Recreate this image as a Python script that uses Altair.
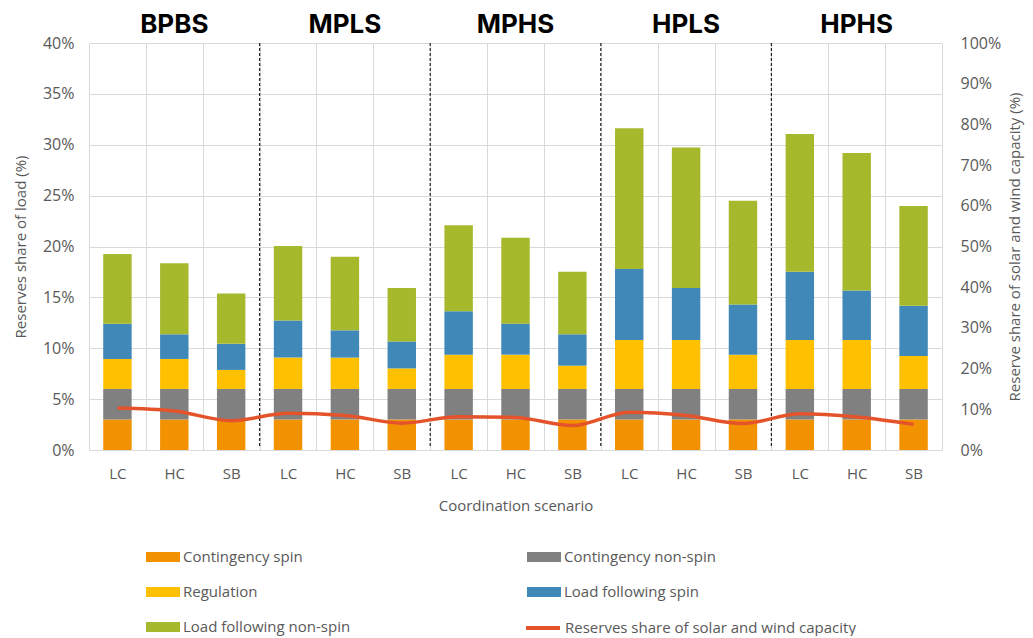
import altair as alt
import pandas as pd

groups = ["BPBS", "MPLS", "MPHS", "HPLS", "HPHS"]
scenarios = ["LC", "HC", "SB"]
series_names = ["Contingency spin", "Contingency non-spin", "Regulation",
                "Load following spin", "Load following non-spin"]
line_name = "Reserves share of solar and wind capacity"

# Reserves share of load (%), per group x scenario (LC, HC, SB)
contingency_spin = [3.0, 3.0, 3.0, 3.0, 3.0, 3.0, 3.0, 3.0, 3.0, 3.0, 3.0, 3.0, 3.0, 3.0, 3.0]
contingency_nonspin = [3.0, 3.0, 3.0, 3.0, 3.0, 3.0, 3.0, 3.0, 3.0, 3.0, 3.0, 3.0, 3.0, 3.0, 3.0]
regulation = [2.95, 2.95, 1.87, 3.08, 3.08, 2.02, 3.37, 3.37, 2.29, 4.82, 4.82, 3.37, 4.82, 4.82, 3.24]
lf_spin = [3.47, 2.42, 2.56, 3.64, 2.68, 2.65, 4.26, 3.05, 3.08, 6.98, 5.11, 4.94, 6.71, 4.85, 4.94]
lf_nonspin = [6.85, 6.98, 4.94, 7.34, 7.24, 5.25, 8.45, 8.45, 6.16, 13.82, 13.79, 10.19, 13.53, 13.53, 9.80]
# Reserves share of solar and wind capacity (%)
line_share = [10.3, 9.6, 7.2, 9.0, 8.5, 6.6, 8.2, 8.0, 6.0, 9.3, 8.5, 6.5, 8.9, 8.1, 6.3]

bar_colors = ["#F39200", "#808080", "#FFC000", "#3F88B8", "#A6B82C"]
line_color = "#E5532B"
# legend reading order (column-major in the legend grid)
legend_order = [0, 2, 4, 1, 3]

keys = [f"{g} {s}" for g in groups for s in scenarios]

rows = []
for ser_i, (name, vals) in enumerate(zip(series_names, [contingency_spin, contingency_nonspin,
                                                          regulation, lf_spin, lf_nonspin])):
    for k, v in zip(keys, vals):
        rows.append({"key": k, "series": name, "value": v, "order": ser_i})
df_bars = pd.DataFrame(rows)
df_line = pd.DataFrame({"key": keys, "share": line_share, "series": line_name})
df_sep = pd.DataFrame({"key": [f"{g} LC" for g in groups[1:]]})

FONT = "Open Sans"
GREY = "#595959"
xscale = alt.Scale(domain=keys, paddingInner=0, paddingOuter=0)

bar_legend = alt.Legend(
    title=None, orient="none", legendX=57, legendY=497, columns=2,
    symbolType="M-1,-0.3H1V0.3H-1Z", symbolSize=1156, symbolStrokeWidth=0,
    labelFont=FONT, labelFontSize=15, labelColor=GREY, labelOffset=3, labelLimit=400,
    columnPadding=176, rowPadding=10,
)
line_legend = alt.Legend(
    title=None, orient="none", legendX=435, legendY=566,
    symbolType="stroke", symbolSize=1156, symbolStrokeWidth=4,
    labelFont=FONT, labelFontSize=15, labelColor=GREY, labelOffset=3, labelLimit=400,
)

bars = alt.Chart(df_bars).mark_bar(width=alt.RelativeBandSize(0.5)).encode(
    x=alt.X("key:N", scale=xscale, sort=keys,
            axis=alt.Axis(title="Coordination scenario", labelExpr="split(datum.label, ' ')[1]",
                          labelAngle=0, grid=True, tickBand="extent", ticks=False, domain=False,
                          gridColor="#D9D9D9", labelPadding=16, titlePadding=17,
                          labelFontSize=15)),
    y=alt.Y("value:Q", stack="zero", scale=alt.Scale(domain=[0, 40], nice=False),
            axis=alt.Axis(title="Reserves share of load (%)", values=list(range(0, 45, 5)),
                          labelExpr="datum.value + '%'", grid=True, ticks=False, domain=False,
                          gridColor="#D9D9D9", labelPadding=15, titlePadding=14)),
    color=alt.Color("series:N",
                    scale=alt.Scale(domain=[series_names[i] for i in legend_order],
                                    range=[bar_colors[i] for i in legend_order]),
                    legend=bar_legend),
    order=alt.Order("order:Q"),
)

seps = alt.Chart(df_sep).mark_rule(color="#222222", strokeWidth=1.2, strokeDash=[3, 2]).encode(
    x=alt.X("key:N", scale=xscale, bandPosition=0),
    y=alt.value(0), y2=alt.value(403),
)

left = alt.layer(bars, seps)

# group names shown as a top x axis, labelled at the middle scenario of each group
line = alt.Chart(df_line).mark_line(interpolate="monotone", strokeWidth=3.5).encode(
    x=alt.X("key:N", scale=xscale, sort=keys,
            axis=alt.Axis(orient="top", title=None,
                          labelExpr="split(datum.label, ' ')[1] == 'HC' ? split(datum.label, ' ')[0] : ''",
                          labelFont="Inter", labelFontSize=26, labelFontWeight="bold",
                          labelColor="#000000", labelAngle=0, labelPadding=6,
                          ticks=False, domain=False, grid=False, labelLimit=300)),
    y=alt.Y("share:Q", scale=alt.Scale(domain=[0, 100], nice=False),
            axis=alt.Axis(orient="right", title="Reserve share of solar and wind capacity (%)",
                          values=list(range(0, 110, 10)), labelExpr="datum.value + '%'",
                          grid=False, ticks=False, domain=False, labelPadding=18,
                          titlePadding=22, titleAngle=270)),
    stroke=alt.Stroke("series:N", scale=alt.Scale(domain=[line_name], range=[line_color]),
                      legend=line_legend),
)

chart = alt.layer(left, line).resolve_scale(y="independent").resolve_axis(x="independent").properties(
    width=853, height=407,
    autosize=alt.AutoSizeParams(type="none"),
    padding={"left": 81, "top": 35, "right": 83, "bottom": 186},
    background="white",
).configure_axis(
    labelFont=FONT, labelFontSize=16, labelColor=GREY,
    titleFont=FONT, titleFontSize=15, titleColor=GREY, titleFontWeight="normal",
).configure_view(stroke=None)

chart.save("out.html", embed_options={"renderer": "svg", "actions": False})
